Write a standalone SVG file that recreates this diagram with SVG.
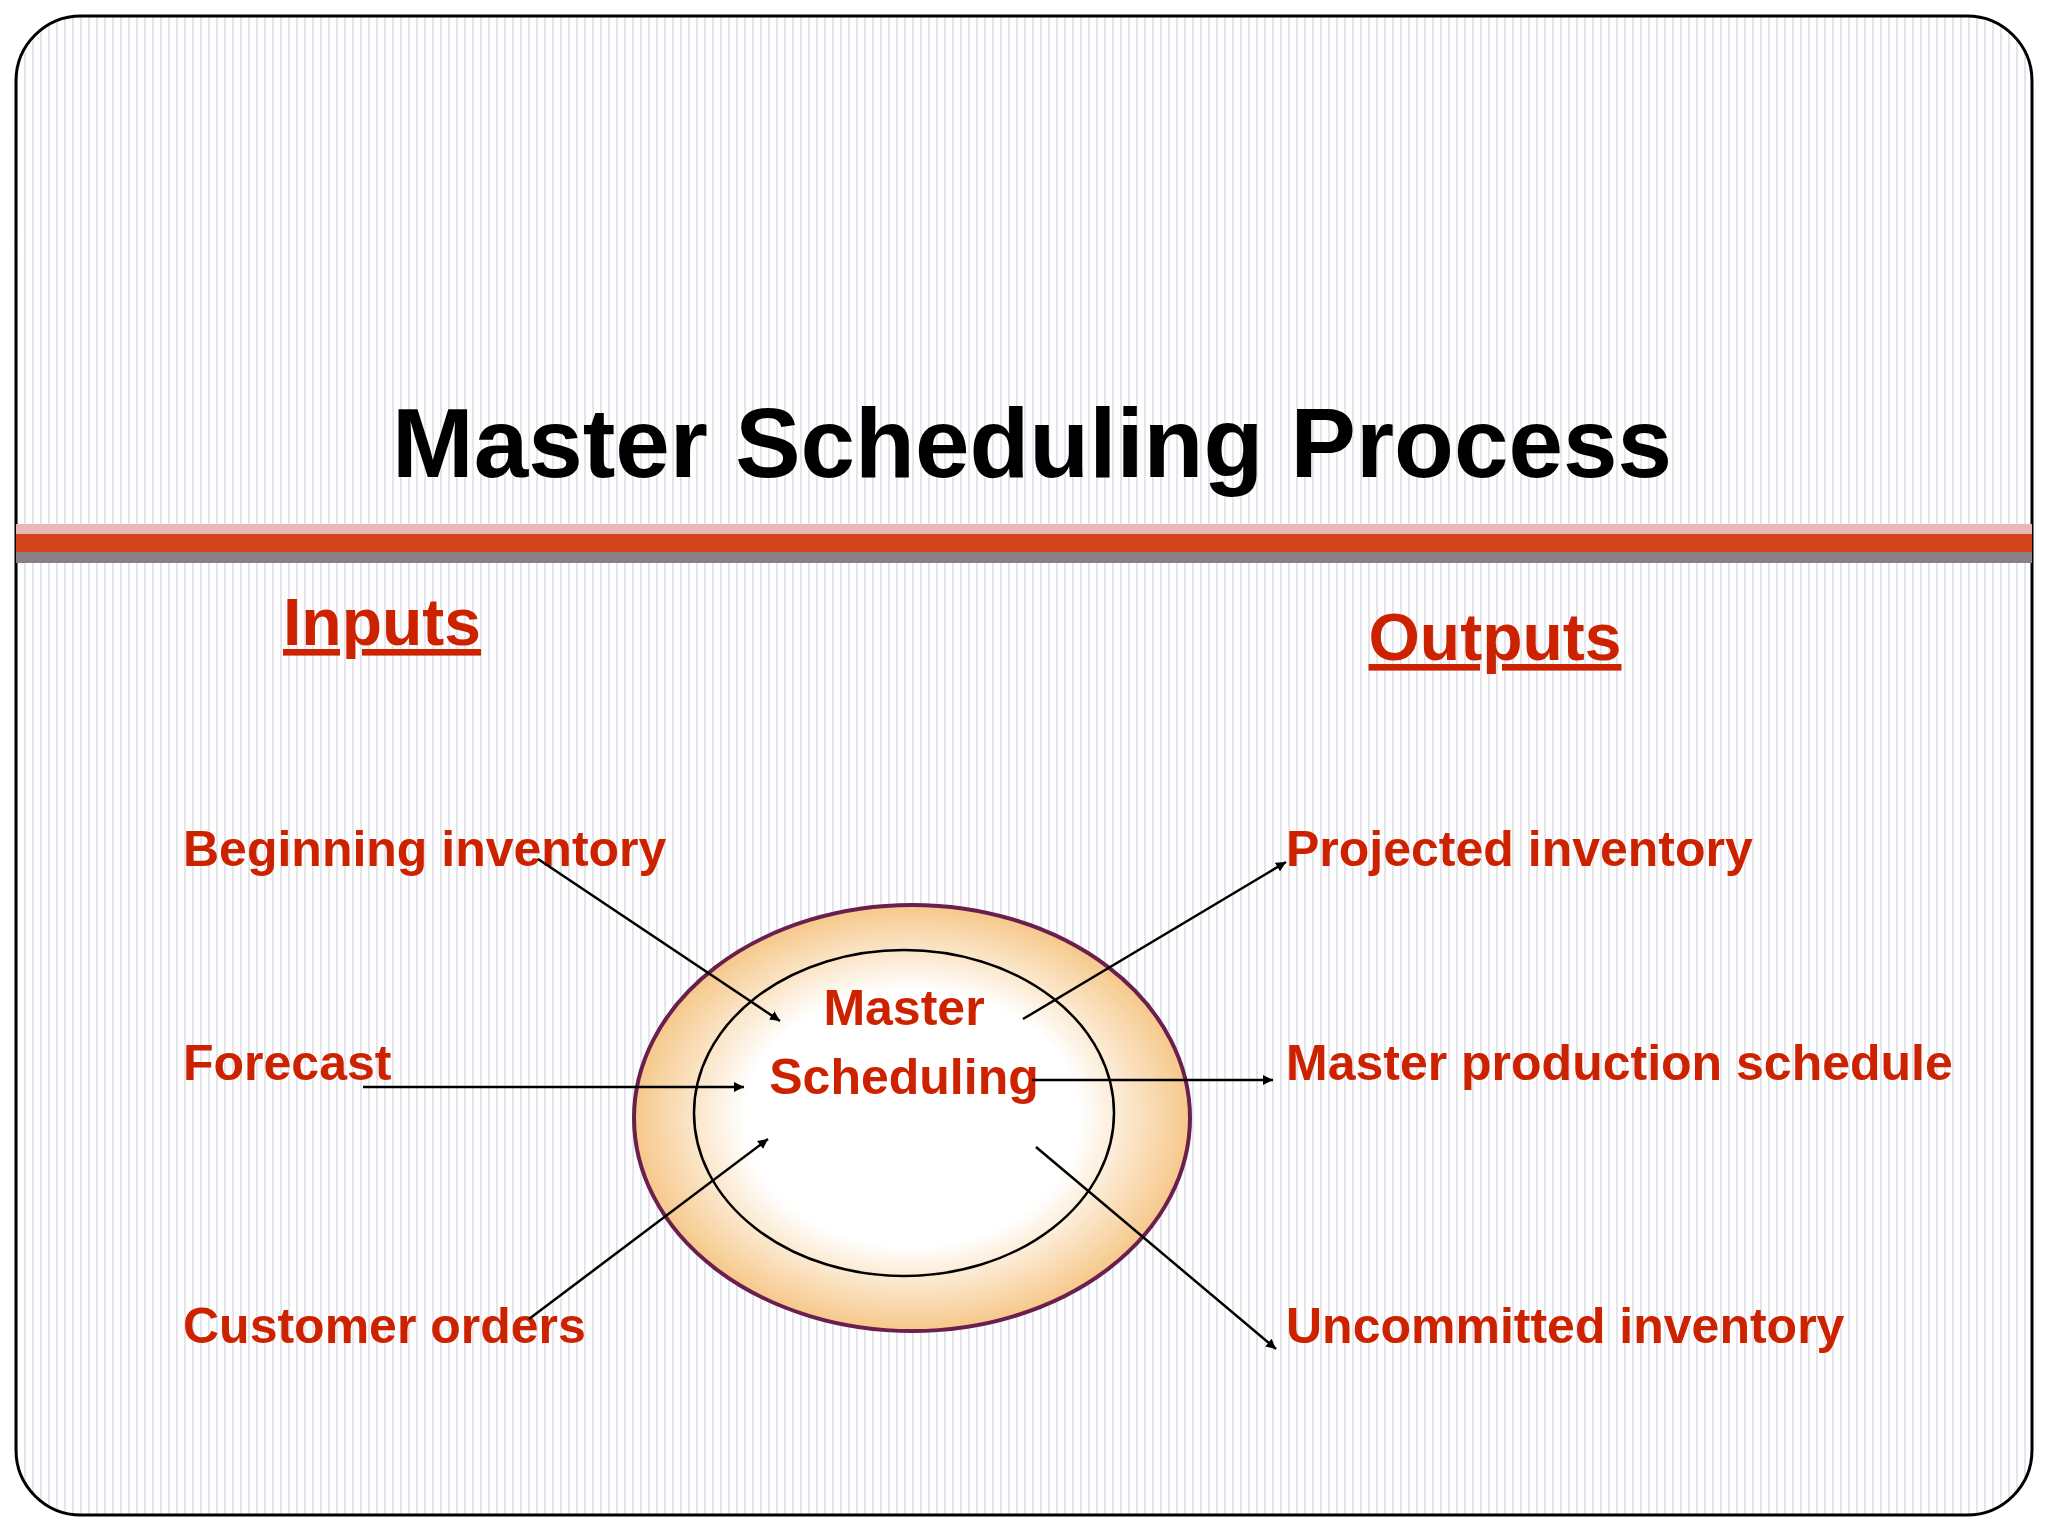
<svg xmlns="http://www.w3.org/2000/svg" width="2048" height="1536" viewBox="0 0 2048 1536">
<defs>
<pattern id="stripes" width="8" height="8" patternUnits="userSpaceOnUse">
<rect width="8" height="8" fill="#ffffff"/>
<rect x="0" width="2" height="8" fill="#e4e4ec"/>
</pattern>
<radialGradient id="ring" cx="0.5" cy="0.5" r="0.5">
<stop offset="0.6" stop-color="#ffffff"/>
<stop offset="1" stop-color="#f6c88a"/>
</radialGradient>
<marker id="ah" viewBox="0 0 10 10" refX="10" refY="5" markerWidth="10" markerHeight="10" markerUnits="userSpaceOnUse" orient="auto">
<path d="M0,0 L10,5 L0,10 z" fill="#000"/>
</marker>
<style>
.lbl{font-family:"Liberation Sans",Arial,sans-serif;font-weight:bold;fill:#cc2200;font-size:50px}
.hd{font-family:"Liberation Sans",Arial,sans-serif;font-weight:bold;fill:#cc2200;font-size:66px;text-decoration:underline}
.conn line{stroke:#000;stroke-width:2.5;marker-end:url(#ah)}
</style>
</defs>
<rect width="2048" height="1536" fill="#ffffff"/>
<rect x="16" y="16" width="2016" height="1499" rx="65" fill="url(#stripes)" stroke="#000" stroke-width="3"/>
<text x="1032" y="477" text-anchor="middle" font-family="Liberation Sans,Arial,sans-serif" font-weight="bold" font-size="98" fill="#000">Master Scheduling Process</text>
<rect x="16" y="524" width="2016" height="10" fill="#e8b8b8"/>
<rect x="16" y="534" width="2016" height="18" fill="#d3441c"/>
<rect x="16" y="552" width="2016" height="11" fill="#8a7f84"/>
<text id="inputs" class="hd" x="382" y="645" text-anchor="middle">Inputs</text>
<text id="outputs" class="hd" x="1495" y="660" text-anchor="middle">Outputs</text>
<g id="center">
<ellipse cx="912" cy="1118" rx="278" ry="213" fill="url(#ring)" stroke="#6b1f4e" stroke-width="4"/>
<ellipse cx="904" cy="1113" rx="210" ry="163" fill="none" stroke="#000" stroke-width="2.5"/>
<text class="lbl" x="904" y="1025" text-anchor="middle" font-size="54">Master</text>
<text class="lbl" x="904" y="1094" text-anchor="middle" font-size="54">Scheduling</text>
</g>
<g id="in1"><text class="lbl" x="183" y="866">Beginning inventory</text></g>
<g id="in2"><text class="lbl" x="183" y="1080">Forecast</text></g>
<g id="in3"><text class="lbl" x="183" y="1343">Customer orders</text></g>
<g id="out1"><text class="lbl" x="1286" y="866">Projected inventory</text></g>
<g id="out2"><text class="lbl" x="1286" y="1080">Master production schedule</text></g>
<g id="out3"><text class="lbl" x="1286" y="1343">Uncommitted inventory</text></g>
<g class="conn" id="connectors">
<line x1="538" y1="859" x2="780" y2="1021"/>
<line x1="363" y1="1087" x2="744" y2="1087"/>
<line x1="529" y1="1319" x2="768" y2="1139"/>
<line x1="1023" y1="1019" x2="1286" y2="862"/>
<line x1="1032" y1="1080" x2="1273" y2="1080"/>
<line x1="1036" y1="1147" x2="1276" y2="1349"/>
</g>
</svg>
